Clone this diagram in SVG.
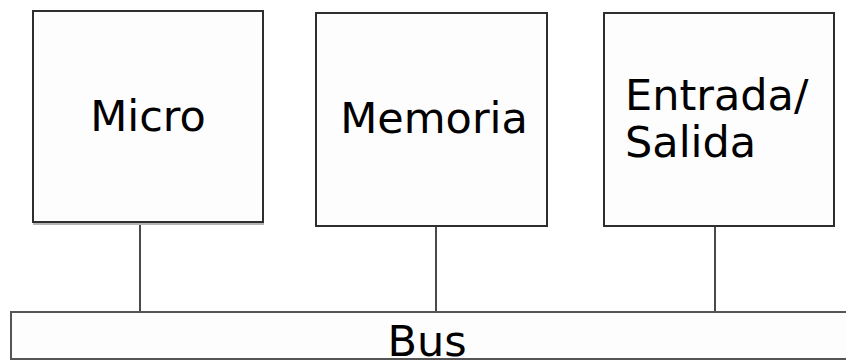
<svg xmlns="http://www.w3.org/2000/svg" width="846" height="361" viewBox="0 0 846 361">
<style>
.box{fill:#fdfdfd;stroke:#2e2e2e;stroke-width:2}
.sh{stroke:#b4b4b4;stroke-width:2}
.lbl{font-family:"DejaVu Sans",sans-serif;font-size:43px;fill:#000}
.con{stroke:#4a4a4a;stroke-width:2;fill:none}
</style>
<rect width="846" height="361" fill="#ffffff"/>
<g id="connectors">
<line class="con" x1="140" y1="222" x2="140" y2="312"/>
<line class="con" x1="436" y1="227" x2="436" y2="312"/>
<line class="con" x1="715" y1="227" x2="715" y2="312"/>
</g>
<g id="micro">
<line class="sh" x1="33" y1="224" x2="264" y2="224"/>
<rect class="box" x="33" y="11" width="230" height="211"/>
<text class="lbl" x="148" y="131" text-anchor="middle">Micro</text>
</g>
<g id="memoria">
<rect class="box" x="316" y="13" width="231" height="213"/>
<text class="lbl" x="434" y="133" text-anchor="middle">Memoria</text>
</g>
<g id="entrada-salida">
<rect class="box" x="604" y="13" width="230" height="213"/>
<text class="lbl" x="625" y="110">Entrada/</text>
<text class="lbl" x="625" y="157">Salida</text>
</g>
<g id="bus">
<rect x="11" y="312" width="850" height="47" fill="#fdfdfd" stroke="#555555" stroke-width="2"/>
<text class="lbl" x="427" y="356" text-anchor="middle">Bus</text>
</g>
</svg>
